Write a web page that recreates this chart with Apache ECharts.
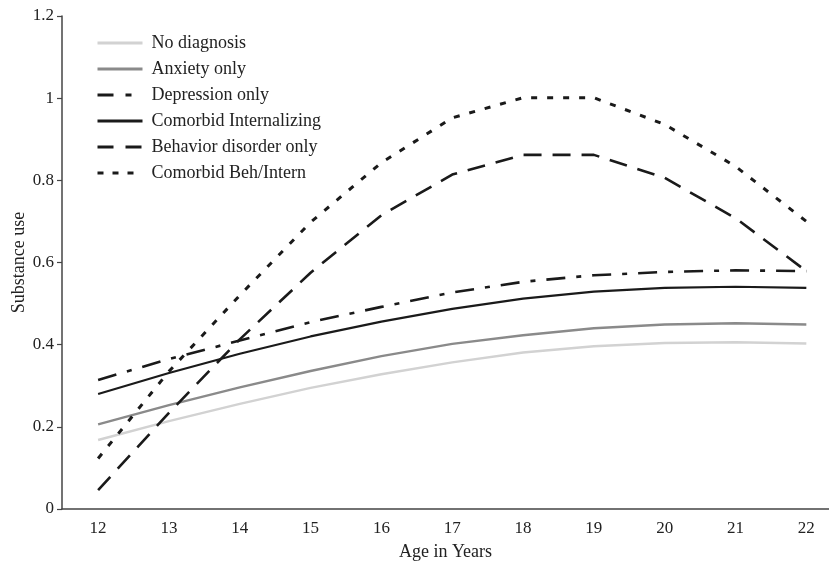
<!DOCTYPE html>
<html>
<head>
<meta charset="utf-8">
<script src="https://cdn.jsdelivr.net/npm/echarts@6/dist/echarts.min.js"></script>
<style>html,body{margin:0;padding:0;background:#fff;}#c{width:829px;height:561px;}</style>
</head>
<body>
<div id="c"></div>
<script>
var ages = [12, 13, 14, 15, 16, 17, 18, 19, 20, 21, 22];
var yTicks = [0, 0.2, 0.4, 0.6, 0.8, 1, 1.2];
var noDiagnosis = [0.168, 0.214, 0.256, 0.295, 0.328, 0.357, 0.381, 0.396, 0.404, 0.406, 0.403];
var anxietyOnly = [0.206, 0.253, 0.296, 0.336, 0.372, 0.402, 0.423, 0.440, 0.449, 0.452, 0.449];
var depressionOnly = [0.314, 0.365, 0.410, 0.455, 0.492, 0.527, 0.553, 0.569, 0.577, 0.581, 0.579];
var comorbidInt = [0.280, 0.331, 0.378, 0.420, 0.456, 0.487, 0.512, 0.529, 0.538, 0.541, 0.538];
var behaviorOnly = [0.046, 0.234, 0.413, 0.575, 0.715, 0.814, 0.862, 0.862, 0.806, 0.708, 0.579];
var comorbidBeh = [0.123, 0.335, 0.520, 0.698, 0.843, 0.952, 1.001, 1.001, 0.936, 0.834, 0.700];
var names = ['No diagnosis', 'Anxiety only', 'Depression only', 'Comorbid Internalizing', 'Behavior disorder only', 'Comorbid Beh/Intern'];

function pairs(vals) { return ages.map(function (a, i) { return [a, vals[i]]; }); }

var font = 'Liberation Serif, Times New Roman, serif';
var styles = [
  { color: '#d2d2d2', type: 'solid', width: 2.4 },
  { color: '#8a8a8a', type: 'solid', width: 2.4 },
  { color: '#1a1a1a', type: [19, 11, 5, 11], width: 2.6 },
  { color: '#1a1a1a', type: 'solid', width: 2.2 },
  { color: '#1a1a1a', type: [18, 11], width: 2.6 },
  { color: '#1a1a1a', type: [6, 10], width: 3 }
];
var legendDash = [
  'solid', 'solid', [16, 12, 6, 12], 'solid', [16, 12], [6, 9]
];
var dataSets = [noDiagnosis, anxietyOnly, depressionOnly, comorbidInt, behaviorOnly, comorbidBeh];

var series = names.map(function (n, i) {
  return {
    name: n, type: 'line', data: pairs(dataSets[i]), symbol: 'none', smooth: false,
    lineStyle: { color: styles[i].color, type: styles[i].type, width: styles[i].width },
    itemStyle: { color: styles[i].color },
    emphasis: { disabled: true }, animation: false
  };
});

var legendData = names.map(function (n, i) {
  return {
    name: n,
    itemStyle: { color: styles[i].color, opacity: 0, borderWidth: 0 },
    lineStyle: { color: styles[i].color, type: legendDash[i], width: 3, opacity: 1 }
  };
});

var chart = echarts.init(document.getElementById('c'));
chart.setOption({
  animation: false,
  backgroundColor: '#fff',
  grid: { left: 62, right: 0, top: 16, bottom: 52, outerBoundsMode: 'none', containLabel: false },
  legend: {
    orient: 'vertical', left: 91, top: 29, itemWidth: 45, itemHeight: 12, itemGap: 8,
    data: legendData,
    textStyle: { fontFamily: font, fontSize: 18, color: '#222', padding: [0, 0, 0, 4] },
    selectedMode: false
  },
  xAxis: {
    type: 'value', min: 11.49, max: 22.32,
    name: 'Age in Years', nameLocation: 'middle', nameGap: 34, nameMoveOverlap: false,
    nameTextStyle: { fontFamily: font, fontSize: 18, color: '#222' },
    axisLine: { lineStyle: { color: '#444', width: 1.5 } },
    axisTick: { show: false },
    splitLine: { show: false },
    axisLabel: { customValues: ages, fontFamily: font, fontSize: 17, color: '#222', margin: 11 }
  },
  yAxis: {
    type: 'value', min: 0, max: 1.2, interval: 0.2,
    name: 'Substance use', nameLocation: 'middle', nameGap: 34, nameMoveOverlap: false,
    nameTextStyle: { fontFamily: font, fontSize: 18, color: '#222' },
    axisLine: { show: true, lineStyle: { color: '#444', width: 1.5 } },
    axisTick: { show: true, length: 5, lineStyle: { color: '#444', width: 1.2 } },
    splitLine: { show: false },
    axisLabel: {
      fontFamily: font, fontSize: 17, color: '#222', margin: 8,
      formatter: function (v) { var r = Math.round(v * 10) / 10; return yTicks.indexOf(r) >= 0 ? String(r) : ''; }
    }
  },
  series: series
});
</script>
</body>
</html>
